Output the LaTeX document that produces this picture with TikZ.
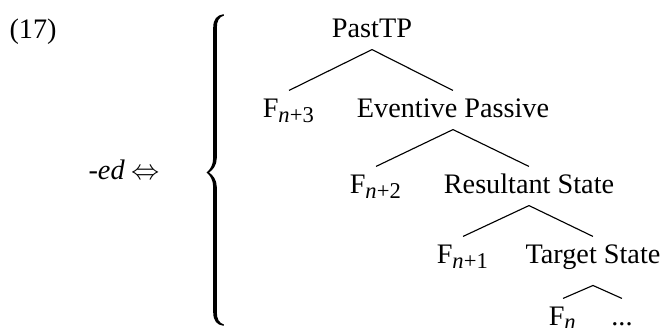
\documentclass[tikz,border=0pt]{standalone}
\usepackage{fontspec}
\setmainfont{Liberation Serif}
\usepackage{tikz}

\newcommand{\Fsub}[1]{F\textsubscript{\fontsize{8}{8}\selectfont #1}}

\begin{document}
\begin{tikzpicture}[-,x=0.354pt,y=-0.354pt,
        lab/.style={anchor=base,inner xsep=0pt,inner ysep=2.5pt,text height=6.7pt,text depth=1.75pt},
        every edge/.style={draw,line width=0.4pt}]

    \useasboundingbox (0,0) rectangle (662,327);

    \node[anchor=base west,inner sep=0pt] (num) at (9,38) {(17)};
    \node[anchor=base west,inner sep=0pt] (ed) at (88,179) {\textit{-ed} $\Leftrightarrow$};

    % the big brace
    \fill (224,15.5) .. controls (219,17) and (216.8,21) .. (216.8,28) -- (216.8,158)
        .. controls (216.8,165) and (213,170) .. (209,172.5)
        .. controls (213,175) and (216.8,180) .. (216.8,187) -- (216.8,312)
        .. controls (216.8,319) and (219,323) .. (224,324.5)
        -- (223.5,325.8) .. controls (217,325) and (213.2,321) .. (213.2,312)
        -- (213.2,187) .. controls (213.2,180) and (210,175) .. (206.5,172.5)
        .. controls (210,170) and (213.2,165) .. (213.2,158)
        -- (213.2,28) .. controls (213.2,19) and (217,15) .. (223.5,14.2) -- cycle;

    \node[lab] (ptp) at (372,37)  {PastTP};
    \node[lab] (f3)  at (289,117) {\Fsub{\textit{n}+3}};
    \node[lab] (ep)  at (453,117) {Eventive Passive};
    \node[lab] (f2)  at (376,193) {\Fsub{\textit{n}+2}};
    \node[lab] (rs)  at (529,193) {Resultant State};
    \node[lab] (f1)  at (463,263) {\Fsub{\textit{n}+1}};
    \node[lab] (ts)  at (593,263) {Target State};
    \node[lab] (fn)  at (563,325) {\Fsub{\textit{n}}};
    \node[lab] (dots) at (622,325) {...};

    \path (ptp.south) edge (f3.north);
    \path (ptp.south) edge (ep.north);
    \path (ep.south)  edge (f2.north);
    \path (ep.south)  edge (rs.north);
    \path (rs.south)  edge (f1.north);
    \path (rs.south)  edge (ts.north);
    \path ([yshift=-3.5pt]ts.south) edge (fn.north);
    \path ([yshift=-3.5pt]ts.south) edge (dots.north);

\end{tikzpicture}
\end{document}
